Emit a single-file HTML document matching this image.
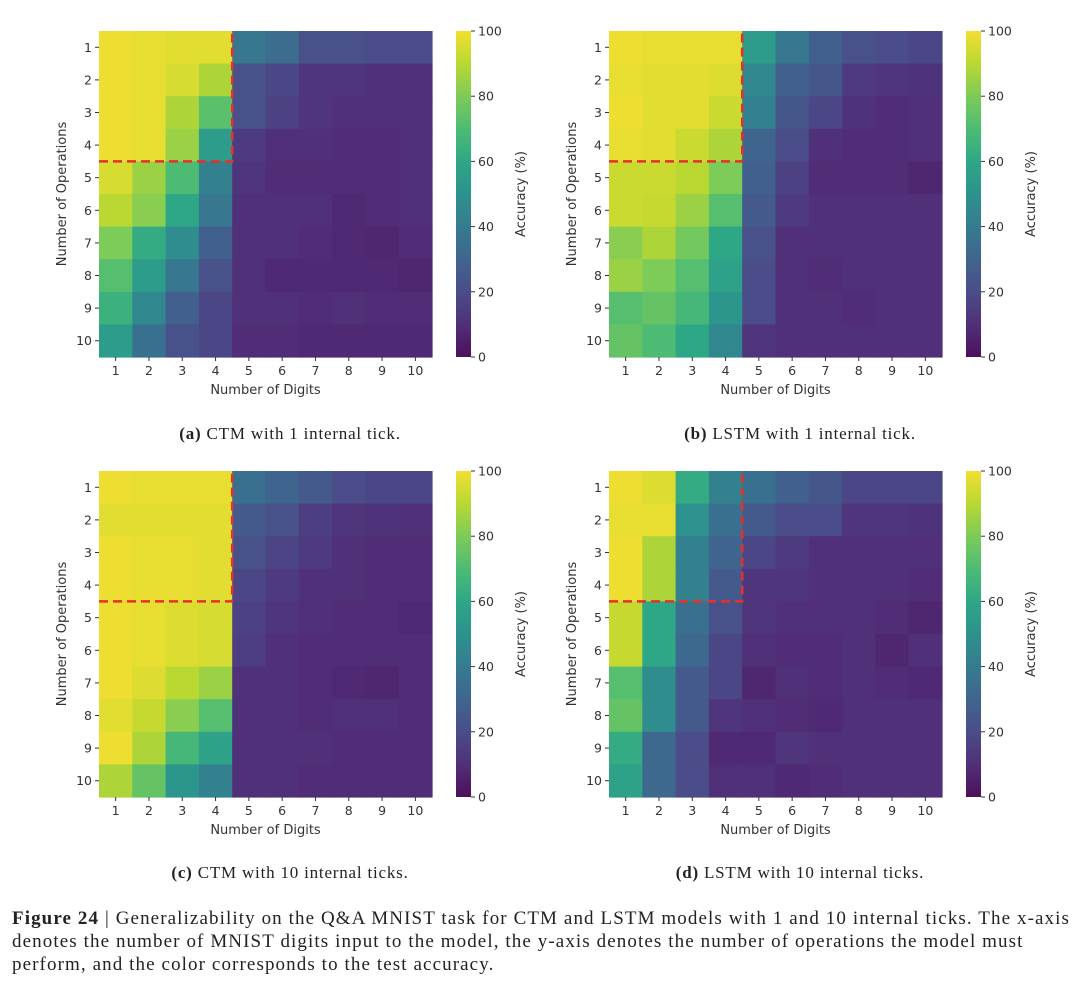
<!DOCTYPE html>
<html><head><meta charset="utf-8"><style>
body{margin:0;background:#fff;width:1080px;height:996px;overflow:hidden;position:relative;font-family:"DejaVu Sans","Liberation Sans",sans-serif}
svg{position:absolute;left:0;top:0}
.cap{position:absolute;font-family:"Liberation Serif",serif;font-size:17px;letter-spacing:0.8px;color:#222;white-space:nowrap;transform:translateX(-50%)}
.fig{position:absolute;left:12px;font-family:"Liberation Serif",serif;font-size:19px;letter-spacing:1.1px;color:#222;white-space:nowrap}
</style></head><body>
<svg id="chart" width="1080" height="996"></svg>
<div class="cap" style="left:290px;top:424px"><b>(a)</b> CTM with 1 internal tick.</div>
<div class="cap" style="left:800px;top:424px"><b>(b)</b> LSTM with 1 internal tick.</div>
<div class="cap" style="left:290px;top:863px"><b>(c)</b> CTM with 10 internal ticks.</div>
<div class="cap" style="left:800px;top:863px"><b>(d)</b> LSTM with 10 internal ticks.</div>
<div class="fig" style="top:908px"><b>Figure 24</b> | Generalizability on the Q&amp;A MNIST task for CTM and LSTM models with 1 and 10 internal ticks. The x-axis</div>
<div class="fig" style="top:931px">denotes the number of MNIST digits input to the model, the y-axis denotes the number of operations the model must</div>
<div class="fig" style="top:954px">perform, and the color corresponds to the test accuracy.</div>
<script>
const digits=[1,2,3,4,5,6,7,8,9,10];
const ops=[1,2,3,4,5,6,7,8,9,10];
const cbTicks=[0,20,40,60,80,100];
const dataA=[
[99,98,97,97,38,33,22,22,20,20],
[99,98,95,88,22,18,12,12,10,10],
[99,98,88,73,22,16,12,10,10,10],
[99,98,85,55,14,10,10,9,9,10],
[95,85,70,42,12,9,9,9,9,10],
[90,82,60,38,10,10,10,8,9,10],
[80,62,48,28,10,10,9,8,7,9],
[72,55,38,22,10,8,8,8,8,7],
[65,45,28,18,10,10,9,10,9,9],
[55,35,22,18,9,9,8,8,8,8]];
const dataB=[
[99,98,98,98,55,38,28,22,20,18],
[98,97,97,96,45,28,24,14,12,11],
[99,97,97,93,42,24,18,11,9,10],
[98,97,93,88,30,20,10,9,9,10],
[93,93,90,80,28,16,9,9,9,7],
[93,92,85,72,25,14,10,10,10,10],
[82,88,78,60,22,10,10,10,10,10],
[85,80,72,58,20,10,9,10,10,10],
[72,75,68,52,20,10,10,9,10,10],
[75,70,60,45,12,10,10,10,10,10]];
const dataC=[
[99,98,98,98,35,30,25,20,18,18],
[97,97,97,97,25,22,15,12,11,10],
[99,98,98,97,22,17,14,10,9,9],
[99,98,98,97,18,14,10,10,9,9],
[99,98,96,95,16,12,10,9,9,8],
[99,98,96,95,15,10,9,9,9,9],
[99,96,90,85,10,10,9,8,7,9],
[97,92,82,72,10,10,9,10,10,9],
[99,88,68,58,10,10,10,9,9,9],
[88,75,52,42,10,10,9,9,9,9]];
const dataD=[
[99,96,62,42,35,28,24,18,18,18],
[98,98,50,35,25,20,20,12,12,11],
[99,88,42,30,18,14,10,10,10,10],
[99,88,42,25,12,12,10,10,10,9],
[92,60,35,22,12,10,10,10,9,7],
[92,60,32,18,10,9,9,10,7,10],
[72,48,25,18,7,10,9,10,9,8],
[75,48,25,12,10,9,8,10,10,10],
[62,32,20,8,8,12,10,10,10,10],
[58,32,20,10,10,8,9,10,10,10]];
const VIR=["#440154","#482475","#414487","#355f8d","#2a788e","#21918c","#22a884","#44bf70","#7ad151","#bddf26","#fde725"];
function hex(h){return [1,3,5].map(i=>parseInt(h.substr(i,2),16));}
function vir(v){let t=Math.max(0,Math.min(1,v/100))*10;let i=Math.min(9,Math.floor(t));let f=t-i;let a=hex(VIR[i]),b=hex(VIR[i+1]);
 return `rgb(${a.map((c,k)=>{let x=c+(b[k]-c)*f;x=x*0.9+255*0.1*0.6;return Math.round(x);}).join(',')})`;}
const svg=document.getElementById('chart');const NS="http://www.w3.org/2000/svg";
function el(tag,attrs,parent){const e=document.createElementNS(NS,tag);for(const k in attrs)e.setAttribute(k,attrs[k]);(parent||svg).appendChild(e);return e;}
const panels=[{d:dataA,x:99,y:31,n:'a'},{d:dataB,x:609,y:31,n:'b'},{d:dataC,x:99,y:471,n:'c'},{d:dataD,x:609,y:471,n:'d'}];
const W=333,H=326;
panels.forEach(p=>{
 const g=el('g',{});
 
 
 const cw=W/digits.length,ch=H/ops.length;
 const sx=i=>p.x+i*cw, sy=j=>p.y+j*ch;
 ops.forEach((o,j)=>digits.forEach((dg,i)=>{
  const r=el('rect',{x:sx(i),y:sy(j),width:cw+0.6,height:ch+0.6,fill:vir(p.d[j][i])},g);
  
  
 }));
 const bx=sx(4),by=sy(4);
 const dl=el('path',{d:`M${p.x} ${by}H${bx}V${p.y}`,stroke:'#e8302a',fill:'none','stroke-width':2.5,'stroke-dasharray':'9,5'},g);
 
 
 digits.forEach((dg,i)=>{
  el('line',{x1:sx(i)+cw/2,x2:sx(i)+cw/2,y1:p.y+H,y2:p.y+H+4,stroke:'#333'},g);
  const t=el('text',{x:sx(i)+cw/2,y:p.y+H+18,'font-size':12.5,'text-anchor':'middle',fill:'#333'},g);t.textContent=dg;
  
  
 });
 ops.forEach((o,j)=>{
  el('line',{x1:p.x-4,x2:p.x,y1:sy(j)+ch/2,y2:sy(j)+ch/2,stroke:'#333'},g);
  const t=el('text',{x:p.x-7,y:sy(j)+ch/2+4.5,'font-size':12.5,'text-anchor':'end',fill:'#333'},g);t.textContent=o;
  
  
 });
 const xl=el('text',{x:p.x+W/2,y:p.y+H+37,'font-size':13,'text-anchor':'middle',fill:'#333'},g);xl.textContent='Number of Digits';
 
 
 const yl=el('text',{x:0,y:0,'font-size':13,'text-anchor':'middle',fill:'#333',transform:`translate(${p.x-33},${p.y+H/2}) rotate(-90)`},g);yl.textContent='Number of Operations';
 
 
 const cx=p.x+357,cbw=15;
 const defs=el('defs',{},g);const lg=el('linearGradient',{id:'vg'+p.n,x1:0,y1:1,x2:0,y2:0},defs);
 VIR.forEach((c,k)=>el('stop',{offset:k/10,'stop-color':vir(k*10)},lg));
 const cb=el('rect',{x:cx,y:p.y,width:cbw,height:H,fill:`url(#vg${p.n})`},g);
 
 
 cbTicks.forEach(v=>{const y=p.y+H-v/100*H;
  el('line',{x1:cx+cbw,x2:cx+cbw+4,y1:y,y2:y,stroke:'#333'},g);
  const t=el('text',{x:cx+cbw+7,y:y+4.5,'font-size':12.5,fill:'#333'},g);t.textContent=v;
  
  
 });
 const cl=el('text',{x:0,y:0,'font-size':13,'text-anchor':'middle',fill:'#333',transform:`translate(${cx+69},${p.y+H/2}) rotate(-90)`},g);cl.textContent='Accuracy (%)';
 
 
});
</script>
</body></html>
